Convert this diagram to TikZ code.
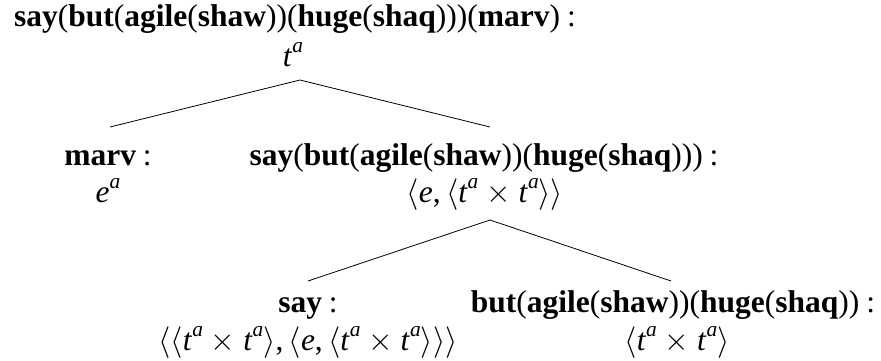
\documentclass[tikz,border=0pt]{standalone}
\usepackage{fix-cm}
\usepackage{fontspec}
\setmainfont{Liberation Serif}
\newcommand{\bw}[1]{\textbf{#1}}
\newcommand{\supa}{\raisebox{0.42em}{\scalebox{0.68}{\itshape a}}}
\newcommand{\tA}{\textit{t}\supa}
\newcommand{\eA}{\textit{e}\supa}
\newcommand{\lA}{$\langle$}
\newcommand{\rA}{$\rangle$}
\newcommand{\prodT}{\lA\tA\ $\times$ \tA\rA}
\newcommand{\cln}{\hspace{0.22em}:}
\tikzset{
  lbl/.style={anchor=base, inner sep=0pt, font=\fontsize{31.5}{36}\selectfont},
  edge/.style={draw=black, line width=0.8pt}
}
\begin{document}
\begin{tikzpicture}[x=1pt,y=1pt]
\useasboundingbox (0,0) rectangle (881,360);
% root
\node[lbl] (root) at (295,334) {\bw{say}(\bw{but}(\bw{agile}(\bw{shaw}))(\bw{huge}(\bw{shaq})))(\bw{marv})\cln};
\node[lbl] (ta) at (293,294) {\tA};
% level 1
\node[lbl] (marv) at (108,195) {\bw{marv}\cln};
\node[lbl] (ea) at (108,158) {\eA};
\node[lbl] (sayfull) at (484,195) {\bw{say}(\bw{but}(\bw{agile}(\bw{shaw}))(\bw{huge}(\bw{shaq})))\cln};
\node[lbl] (etype) at (485,158) {\lA\textit{e},\,\prodT\rA};
% level 2
\node[lbl] (say) at (308,48) {\bw{say}\cln};
\node[lbl] (saytype) at (308,10) {\lA\prodT,\,\lA\textit{e},\,\prodT\rA\rA};
\node[lbl] (but) at (673,48) {\bw{but}(\bw{agile}(\bw{shaw}))(\bw{huge}(\bw{shaq}))\cln};
\node[lbl] (buttype) at (677,10) {\prodT};
% edges
\draw[edge] ([shift={(7,-14)}]ta.base) -- ([shift={(2,38)}]marv.base);
\draw[edge] ([shift={(7,-14)}]ta.base) -- ([shift={(6,38)}]sayfull.base);
\draw[edge] ([shift={(5,-18)}]etype.base) -- ([shift={(0,31)}]say.base);
\draw[edge] ([shift={(5,-18)}]etype.base) -- ([shift={(-2,31)}]but.base);
\end{tikzpicture}
\end{document}
